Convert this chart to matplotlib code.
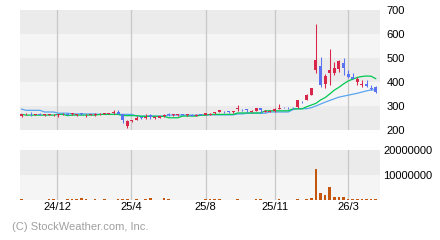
import matplotlib
matplotlib.use("Agg")
import matplotlib.pyplot as plt
import numpy as np

plt.rcParams["font.family"] = ["Liberation Sans", "DejaVu Sans"]

# weekly candles
opens = [260, 265, 268, 263, 267, 262, 263, 262, 262, 265,
         268, 265, 262, 269, 262, 263, 264, 265, 268, 268,
         270, 275, 267, 217, 236, 242, 253, 249, 262, 248,
         250, 258, 266, 262, 262, 266, 262, 263, 259, 266,
         262, 263, 270, 275, 280, 279, 274, 286, 288, 285,
         276, 281, 290, 276, 277, 279, 288, 296, 293, 292,
         295, 318, 325, 346, 450, 467, 392, 437, 439, 453,
         478, 433, 419, 401, 386, 392, 375, 378]
highs = [268, 270, 274, 268, 270, 266, 266, 265, 266, 269,
         270, 270, 268, 271, 265, 266, 271, 269, 272, 271,
         283, 283, 268, 242, 243, 257, 256, 265, 266, 258,
         259, 268, 272, 266, 267, 268, 266, 265, 267, 268,
         271, 270, 276, 284, 281, 280, 280, 304, 289, 286,
         282, 291, 291, 285, 282, 291, 308, 297, 294, 294,
         327, 320, 348, 376, 642, 505, 433, 536, 485, 492,
         498, 450, 439, 419, 408, 408, 387, 383]
lows = [254, 264, 260, 261, 262, 260, 261, 260, 254, 263,
        262, 264, 260, 263, 255, 261, 260, 263, 266, 266,
        268, 266, 231, 208, 234, 240, 246, 246, 245, 245,
        248, 256, 257, 260, 260, 261, 260, 258, 257, 262,
        261, 262, 268, 274, 270, 271, 272, 280, 281, 275,
        274, 278, 272, 273, 276, 275, 286, 290, 287, 288,
        293, 312, 323, 344, 437, 380, 375, 388, 429, 443,
        429, 417, 411, 387, 380, 381, 367, 353]
closes = [265, 268, 265, 266, 264, 265, 265, 264, 265, 268,
          264, 269, 267, 265, 264, 265, 268, 268, 270, 270,
          276, 268, 240, 237, 241, 252, 249, 256, 255, 254,
          257, 263, 262, 265, 265, 263, 265, 260, 264, 264,
          269, 268, 275, 283, 278, 277, 278, 290, 286, 283,
          280, 290, 283, 281, 280, 288, 293, 294, 291, 290,
          325, 315, 346, 374, 492, 387, 425, 450, 457, 487,
          460, 422, 414, 411, 392, 385, 370, 358]

ma13 = [265] + [262] * 7 + [265] * 2 + [260] + [262] * 6 + [265] * 5 + \
       [260] * 4 + [257] * 6 + [251] * 3 + [258] * 4 + [262] * 2 + \
       [265] * 6 + [271] * 6 + [280] * 6 + [288] * 3 + [297] + \
       [304, 311, 325, 335, 350, 366, 378, 392, 404, 412, 419, 423, 425, 424, 414]
ma26 = [287] + [282] * 4 + [275] * 3 + [270] * 3 + [267] * 6 + [265] * 8 + \
       [258] * 7 + [262] * 9 + [263] * 6 + [267] * 2 + [270] * 5 + \
       [275] * 5 + [285, 289, 289, 289] + \
       [293, 300, 308, 316, 323, 330, 337, 341, 345, 349, 353, 358, 363, 367, 368]

volume = [400000, 0, 0, 0, 0, 0, 400000, 400000, 0, 0,
          400000, 400000, 400000, 800000, 400000, 0, 400000, 0, 400000, 0,
          0, 400000, 400000, 400000, 0, 400000, 0, 400000, 800000, 0,
          0, 800000, 400000, 0, 0, 0, 0, 0, 0, 0,
          400000, 400000, 400000, 400000, 0, 0, 0, 400000, 0, 0,
          0, 400000, 400000, 0, 0, 0, 400000, 0, 0, 0,
          400000, 0, 400000, 900000, 12400000, 2900000, 2000000, 5200000, 1300000, 1300000,
          1300000, 400000, 400000, 400000, 400000, 400000, 400000, 400000]

month_pos = [7.8, 23.9, 40, 55, 71]
month_labels = ["24/12", "25/4", "25/8", "25/11", "26/3"]
price_ticks = [200, 300, 400, 500, 600, 700]
vol_ticks = [10000000, 20000000]

UP = "#d9264b"
DOWN = "#5b73f0"
GRAY = "#ebebeb"
LIGHT = "#f5f5f5"
GRID = "#c8c8c8"

x = np.arange(len(closes))
o = np.array(opens)
c = np.array(closes)
cols = [UP if cc >= oo else DOWN for oo, cc in zip(o, c)]

fig = plt.figure(figsize=(4.4, 2.4), dpi=100)
ax = fig.add_axes([20 / 440, 110 / 240, 360 / 440, 120 / 240])
axv = fig.add_axes([20 / 440, 40 / 240, 360 / 440, 50 / 240])

# background bands
for k, (lo, hi) in enumerate(zip(price_ticks[:-1], price_ticks[1:])):
    ax.axhspan(lo, hi, color=GRAY if k % 2 == 0 else LIGHT, lw=0, zorder=0)
axv.axhspan(0, vol_ticks[0], color=LIGHT, lw=0, zorder=0)
axv.axhspan(vol_ticks[0], vol_ticks[1], color=GRAY, lw=0, zorder=0)

for a in (ax, axv):
    for p in month_pos:
        a.axvline(p, color=GRID, lw=0.9, zorder=1)
    a.set_xlim(-0.33, 77.93)
    for s in a.spines.values():
        s.set_visible(False)
    a.yaxis.tick_right()

# moving averages
ax.plot(x, ma26, color="#5aa5f0", lw=0.9, zorder=2)
ax.plot(x, ma13, color="#00c850", lw=0.9, zorder=2)

# candles
ax.vlines(x, lows, highs, colors=cols, lw=0.75, zorder=3)
body = np.maximum(np.abs(c - o), 2.5)
ax.bar(x, body, bottom=np.minimum(o, c), width=0.66, color=cols, lw=0, zorder=4)

ax.set_ylim(200, 700)
ax.set_yticks(price_ticks)
ax.set_xticks([])
ax.tick_params(axis="y", length=0, pad=4.5, labelsize=8)

axv.bar(x, volume, width=0.58, color="#c4550c", lw=0, zorder=3)
axv.set_ylim(0, 20000000)
axv.set_yticks(vol_ticks)
axv.set_yticklabels([str(v) for v in vol_ticks])
axv.set_xticks(month_pos)
axv.set_xticklabels(month_labels)
axv.tick_params(axis="y", length=0, pad=2.5, labelsize=8)
axv.tick_params(axis="x", length=0, pad=1.5, labelsize=8)

fig.text(12 / 440, 1 - 227 / 240, "(C) StockWeather.com, Inc.", color="#a0a0a0",
         fontsize=8, va="center", ha="left")

fig.savefig("out.png", dpi=100, facecolor="white")
